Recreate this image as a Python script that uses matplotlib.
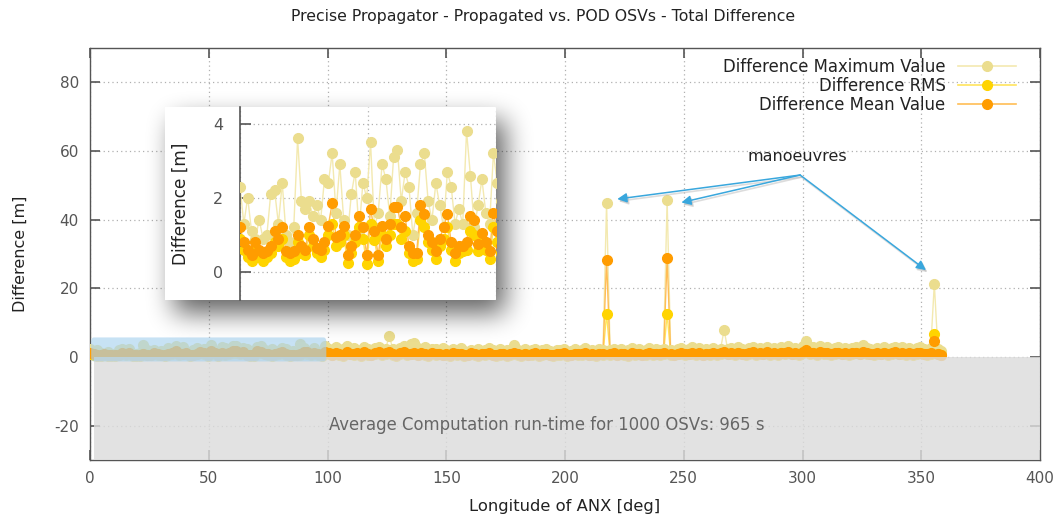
import matplotlib
matplotlib.use('Agg')
import matplotlib.pyplot as plt
from matplotlib.patches import Rectangle, FancyBboxPatch
import numpy as np

# sampling step along the orbit [deg]
step = 1.5

diff_max = [
    2.3, 1.3, 2.0, 1.1, 0.9, 1.4, 0.9, 1.0, 2.1, 2.2, 1.3, 2.4, 1.0, 0.8, 1.2, 3.6, 1.9, 1.7, 1.9, 1.5,
    1.8, 1.4, 2.5, 2.4, 3.2, 1.6, 2.9, 1.4, 1.0, 2.1, 2.7, 1.1, 2.4, 2.0, 3.5, 1.2, 1.6, 2.9, 2.5, 1.5,
    3.1, 3.3, 1.9, 2.7, 2.3, 1.0, 1.6, 2.9, 3.2, 1.9, 1.4, 2.4, 1.8, 1.2, 2.7, 2.3, 1.3, 1.7, 1.3, 3.8,
    2.6, 1.2, 1.8, 2.5, 1.6, 1.3, 3.2, 2.4, 1.9, 2.8, 1.6, 2.2, 3.1, 1.8, 2.5, 2.0, 1.5, 2.9, 2.2, 1.7,
    2.6, 3.0, 2.1, 2.4, 6.2, 2.3, 1.8, 2.7, 3.3, 2.2, 3.9, 4.1, 2.5, 2.0, 2.8, 1.9, 2.4, 2.2, 1.7, 2.6,
    2.0, 1.6, 2.3, 1.9, 2.5, 1.7, 1.5, 2.1, 1.8, 2.4, 1.6, 2.0, 2.6, 1.9, 1.5, 2.2, 1.8, 2.0, 1.4, 3.5,
    2.1, 1.7, 2.3, 1.5, 1.9, 2.2, 1.6, 2.0, 2.4, 1.8, 1.5, 2.1, 1.9, 2.3, 1.6, 1.8, 2.2, 1.7, 2.0, 2.5,
    1.8, 2.1, 1.6, 2.3, 2.0, 44.8, 1.9, 2.2, 1.7, 2.4, 1.8, 2.0, 2.6, 1.9, 2.3, 1.7, 2.1, 2.5, 1.8, 2.2,
    1.9, 2.4, 45.7, 2.0, 1.7, 2.3, 2.6, 1.9, 2.2, 2.8, 2.0, 2.5, 1.8, 2.3, 2.1, 2.7, 1.9, 2.4, 7.9, 2.2,
    2.6, 2.0, 2.8, 2.3, 1.9, 2.5, 2.9, 2.1, 2.7, 2.4, 3.0, 2.2, 2.6, 2.0, 2.8, 2.5, 3.2, 2.3, 2.7, 2.1,
    3.1, 4.7, 2.6, 2.9, 2.2, 3.1, 2.5, 2.8, 2.0, 2.6, 3.0, 2.3, 2.7, 2.1, 2.5, 2.9, 2.2, 3.5, 2.6, 2.4,
    2.0, 2.7, 2.3, 2.9, 2.1, 2.6, 3.0, 2.4, 2.8, 2.2, 2.5, 2.0, 2.6, 2.9, 2.3, 2.1, 2.7, 21.3, 2.4, 1.8,
]

diff_rms = [
    0.9, 0.6, 0.4, 0.3, 0.6, 0.4, 0.3, 0.4, 0.5, 0.8, 0.7, 0.9, 0.4, 0.3, 0.35, 0.8, 0.5, 0.45, 1.0, 0.7,
    0.5, 0.4, 0.6, 1.0, 1.3, 0.7, 0.8, 1.0, 0.25, 0.5, 0.8, 1.2, 0.9, 0.2, 1.3, 0.85, 0.3, 1.0, 0.7, 1.0,
    1.3, 1.3, 0.9, 1.1, 0.5, 0.3, 0.35, 1.4, 1.2, 0.8, 0.6, 0.35, 0.7, 0.9, 1.2, 0.6, 0.3, 0.5, 0.55, 0.6,
    1.1, 1.0, 0.55, 0.8, 0.6, 0.35, 1.2, 0.8, 0.5, 1.0, 0.7, 0.4, 1.1, 0.8, 0.6, 0.9, 0.4, 1.2, 0.7, 0.5,
    1.0, 1.2, 0.6, 0.8, 1.1, 0.7, 0.4, 0.9, 1.2, 0.6, 0.8, 1.0, 0.5, 0.8, 0.7, 0.4, 0.9, 0.6, 0.8, 0.5,
    0.7, 0.4, 0.8, 0.6, 0.8, 0.4, 0.5, 0.9, 0.7, 0.4, 0.8, 0.6, 0.9, 0.5, 0.4, 0.7, 0.8, 0.4, 0.6, 0.9,
    0.6, 0.4, 0.8, 0.5, 0.7, 0.9, 0.4, 0.6, 0.8, 0.5, 0.4, 0.7, 0.6, 0.9, 0.4, 0.5, 0.8, 0.6, 0.7, 0.9,
    0.5, 0.7, 0.4, 0.8, 0.6, 12.5, 0.7, 0.9, 0.5, 0.8, 0.6, 0.4, 0.9, 0.7, 0.8, 0.5, 0.7, 0.9, 0.6, 0.8,
    0.6, 0.9, 12.5, 0.7, 0.5, 0.8, 1.0, 0.6, 0.8, 1.0, 0.7, 0.9, 0.5, 0.8, 0.7, 1.0, 0.6, 0.9, 1.2, 0.8,
    1.0, 0.7, 1.1, 0.8, 0.6, 0.9, 1.1, 0.7, 1.0, 0.8, 1.1, 0.7, 1.0, 0.6, 1.1, 0.9, 1.2, 0.8, 1.0, 0.7,
    1.1, 1.5, 1.0, 1.1, 0.7, 1.1, 0.9, 1.0, 0.6, 0.9, 1.1, 0.8, 1.0, 0.7, 0.9, 1.1, 0.8, 1.3, 1.0, 0.8,
    0.7, 1.0, 0.8, 1.1, 0.7, 0.9, 1.1, 0.8, 1.0, 0.7, 0.9, 0.6, 1.0, 1.1, 0.8, 0.7, 1.0, 6.7, 0.8, 0.5,
]

diff_mean = [
    1.2, 0.8, 0.6, 0.45, 0.8, 0.6, 0.5, 0.55, 0.7, 1.1, 0.9, 1.2, 0.55, 0.5, 0.55, 1.0, 0.7, 0.6, 1.2, 0.9,
    0.65, 0.6, 0.8, 1.25, 1.85, 0.95, 1.0, 1.25, 0.45, 0.7, 1.0, 1.5, 1.2, 0.45, 1.7, 1.1, 0.45, 1.25, 0.9, 1.3,
    1.75, 1.75, 1.2, 1.5, 0.7, 0.5, 0.5, 1.8, 1.55, 1.0, 0.8, 0.55, 0.9, 1.2, 1.55, 0.8, 0.5, 0.7, 0.7, 0.8,
    1.5, 1.4, 0.75, 1.05, 0.8, 0.55, 1.6, 1.1, 0.7, 1.3, 0.9, 0.6, 1.4, 1.0, 0.8, 1.2, 0.5, 1.5, 0.9, 0.7,
    1.3, 1.6, 0.8, 1.1, 1.4, 0.9, 0.6, 1.2, 1.5, 0.8, 1.0, 1.3, 0.7, 1.1, 0.9, 0.6, 1.2, 0.8, 1.0, 0.7,
    0.9, 0.6, 1.1, 0.8, 1.0, 0.5, 0.7, 1.2, 0.9, 0.6, 1.0, 0.8, 1.1, 0.7, 0.5, 0.9, 1.0, 0.6, 0.8, 1.2,
    0.8, 0.6, 1.0, 0.7, 0.9, 1.1, 0.6, 0.8, 1.0, 0.7, 0.5, 0.9, 0.8, 1.1, 0.6, 0.7, 1.0, 0.8, 0.9, 1.2,
    0.7, 0.9, 0.6, 1.0, 0.8, 28.2, 0.9, 1.1, 0.7, 1.0, 0.8, 0.6, 1.2, 0.9, 1.0, 0.7, 0.9, 1.1, 0.8, 1.0,
    0.8, 1.1, 28.8, 0.9, 0.7, 1.0, 1.2, 0.8, 1.0, 1.3, 0.9, 1.1, 0.7, 1.0, 0.9, 1.2, 0.8, 1.1, 1.6, 1.0,
    1.2, 0.9, 1.3, 1.0, 0.8, 1.1, 1.4, 0.9, 1.2, 1.0, 1.4, 0.9, 1.2, 0.8, 1.3, 1.1, 1.5, 1.0, 1.2, 0.9,
    1.4, 1.9, 1.2, 1.3, 0.9, 1.4, 1.1, 1.2, 0.8, 1.1, 1.3, 1.0, 1.2, 0.9, 1.1, 1.3, 1.0, 1.6, 1.2, 1.0,
    0.9, 1.2, 1.0, 1.3, 0.9, 1.1, 1.4, 1.0, 1.2, 0.9, 1.1, 0.8, 1.2, 1.3, 1.0, 0.9, 1.2, 4.7, 1.0, 0.7,
]

lon = np.arange(len(diff_max)) * step

series = [
    ('Difference Maximum Value', diff_max, '#ebdd8e', '#f3e9b0'),
    ('Difference RMS', diff_rms, '#ffd400', '#ffe45c'),
    ('Difference Mean Value', diff_mean, '#ff9c00', '#ffbd55'),
]

plt.rcParams['font.family'] = 'DejaVu Sans'
plt.rcParams['axes.unicode_minus'] = False
W, H = 1058, 517
fig = plt.figure(figsize=(W / 100, H / 100), dpi=100)
ax = fig.add_axes([90 / W, 1 - 460 / H, 950 / W, 412 / H])


def draw_series(a):
    for name, vals, mc, lc in series:
        a.plot(lon, vals, '-', color=lc, lw=1.0, zorder=2)
        a.plot(lon, vals, 'o', color=mc, ms=7, mec=mc, zorder=3)


draw_series(ax)
# legend proxies
handles = []
for name, vals, mc, lc in series:
    h, = ax.plot([], [], '-o', color=lc, mfc=mc, mec=mc, ms=7, lw=1.2, label=name)
    handles.append(h)

ax.set_xlim(0, 400)
ax.set_ylim(-30, 90)
ax.set_xticks(range(0, 401, 50))
ax.set_yticks(range(-20, 81, 20))
ax.grid(True, ls=(0, (1, 2.5)), color='#b0b0b0', lw=0.9)
ax.set_axisbelow(True)
ax.tick_params(direction='in', length=7, width=1.2, color='#555555', labelcolor='#555555',
               labelsize=11, top=True, right=True, pad=8)
for s in ax.spines.values():
    s.set_color('#555555')
    s.set_linewidth(1.0)

# shaded regions (drawn over the data, like the original)
ax.add_patch(Rectangle((1.5, -30), 398.5, 30, facecolor='#dcdcdc', alpha=0.82,
                       edgecolor='none', zorder=4))
ax.add_patch(FancyBboxPatch((0.5, -1.3), 99.0, 7.0, boxstyle='round,pad=0,rounding_size=1.2',
                            facecolor='#a9d3ef', alpha=0.65, edgecolor='none', zorder=5,
                            mutation_aspect=1.0))

ax.text(100.5, -19.8, 'Average Computation run-time for 1000 OSVs: 965 s', color='#666666',
        fontsize=11.9, va='center', ha='left', zorder=6)

ax.set_xlabel('Longitude of ANX [deg]', fontsize=11.8, color='#222222', labelpad=9)
ax.set_ylabel('Difference [m]', fontsize=11.5, color='#222222', labelpad=19)
fig.text(543 / W, 1 - 16 / H, 'Precise Propagator - Propagated vs. POD OSVs - Total Difference',
         ha='center', va='center', fontsize=11.3, color='#222222')

leg = ax.legend(handles=handles, loc='upper right', bbox_to_anchor=(0.985, 1.0),
                markerfirst=False, frameon=False, fontsize=11.9, handlelength=3.5,
                handletextpad=0.75, labelspacing=0.05, borderaxespad=0.2)
for t in leg.get_texts():
    t.set_color('#222222')

# manoeuvre annotations
ax.text(298, 58.3, 'manoeuvres', ha='center', va='center', fontsize=11.5, color='#222222', zorder=6)
for tx, ty in [(222, 46), (249, 45), (352, 25.3)]:
    ax.annotate('', xy=(tx + 0.6, ty - 0.6), xytext=(299.6, 52.4),
                arrowprops=dict(arrowstyle='-|>', color='#bbbbbb', lw=1.2, alpha=0.5,
                                mutation_scale=14, shrinkA=0, shrinkB=0), zorder=5)
    ax.annotate('', xy=(tx, ty), xytext=(299, 53),
                arrowprops=dict(arrowstyle='-|>', color='#39a7dd', lw=1.1,
                                mutation_scale=14, shrinkA=0, shrinkB=0), zorder=6)


# inset panel: white card with a soft drop shadow (pixel image)
def soft_rect(h, w, x0, y0, rw, rh, r):
    m = np.zeros((h, w))
    m[y0:y0 + rh, x0:x0 + rw] = 1.0
    k = np.ones(2 * r + 1) / (2 * r + 1)
    for _ in range(3):
        m = np.apply_along_axis(lambda v: np.convolve(v, k, mode='same'), 0, m)
        m = np.apply_along_axis(lambda v: np.convolve(v, k, mode='same'), 1, m)
    return m


card_l, card_t, card_w, card_h = 165, 107, 331, 193
pad = 70
gh, gw = card_h + 2 * pad, card_w + 2 * pad
shadow = np.zeros((gh, gw, 4))
shadow[..., 3] = 0.62 * soft_rect(gh, gw, pad + 9, pad + 13, card_w, card_h, 12)
fig.figimage(shadow, xo=card_l - pad, yo=H - (card_t + card_h) - pad, origin='upper', zorder=2)
fig.add_artist(Rectangle((card_l / W, 1 - (card_t + card_h) / H), card_w / W, card_h / H,
                         transform=fig.transFigure, facecolor='white', edgecolor='none', zorder=3))

axi = fig.add_axes([240 / W, 1 - 300 / H, 256 / W, 193 / H])
axi.set_zorder(4)
axi.set_facecolor('white')
draw_series(axi)
axi.set_xlim(0, 100)
axi.set_ylim(-0.76, 4.45)
axi.set_xticks([0, 50, 100])
axi.set_yticks([0, 2, 4])
axi.tick_params(axis='x', length=0, labelbottom=False)
axi.tick_params(axis='y', direction='in', length=8, width=1.2, color='#555555',
                labelcolor='#555555', labelsize=11.5, pad=12)
axi.grid(True, ls=(0, (1, 2.5)), color='#b0b0b0', lw=0.9)
axi.set_axisbelow(True)
for side in ['top', 'right', 'bottom']:
    axi.spines[side].set_visible(False)
axi.spines['left'].set_color('#555555')
axi.spines['left'].set_linewidth(1.2)
axi.set_ylabel('Difference [m]', fontsize=12.2, color='#222222', labelpad=17)

fig.savefig('out.png', dpi=100)
